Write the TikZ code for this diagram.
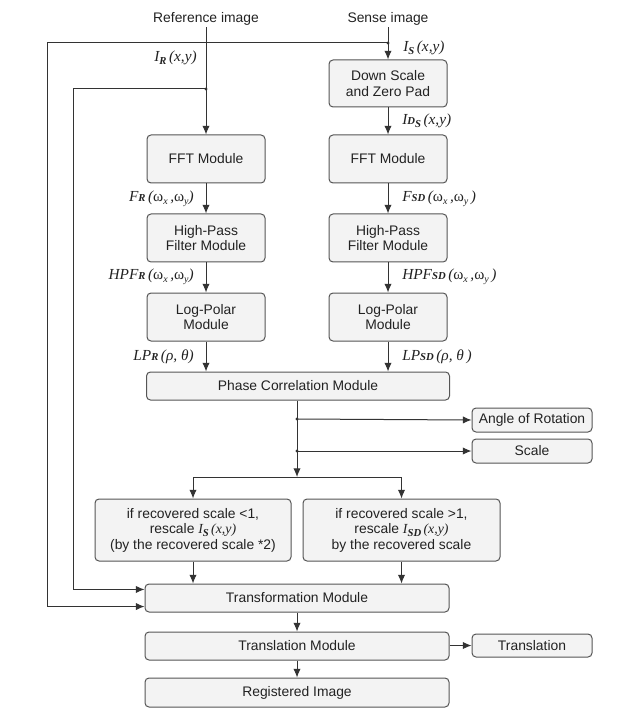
\documentclass[tikz,border=0pt]{standalone}
\usepackage{fontspec}
\setmainfont{Liberation Sans}
\newfontfamily\lbf{Liberation Serif}
\usetikzlibrary{arrows.meta,calc}
\definecolor{boxc}{HTML}{555555}
\definecolor{fillc}{HTML}{F3F3F3}
\definecolor{linec}{HTML}{333333}
\definecolor{txtc}{HTML}{222222}
\newcommand\sbb[1]{\raisebox{-0.4ex}{\fontsize{8}{8}\selectfont\bfseries\itshape #1}}
\newcommand\sbn[1]{\raisebox{-0.4ex}{\fontsize{7.5}{7.5}\selectfont\itshape #1}}
\newcommand\smb[1]{{\fontsize{8}{8}\selectfont\bfseries\itshape #1}}
\newcommand\om{{\upshape ω}}
\tikzset{
  bx/.style={draw=boxc, fill=fillc, rounded corners=3pt, line width=0.75pt,
    align=center, inner sep=0pt, text=txtc, font=\fontsize{10.4}{11.6}\selectfont},
  arr/.style={draw=linec, line width=0.75pt, -{Latex[length=6.5pt,width=5.5pt]}},
  ln/.style={draw=linec, line width=0.75pt},
  lbl/.style={font=\lbf\itshape\fontsize{11.5}{13}\selectfont, text=txtc, inner sep=0pt},
  ttl/.style={font=\fontsize{10.4}{12}\selectfont, text=txtc, inner sep=1pt},
  dot/.style={fill=linec}
}
\begin{document}
\begin{tikzpicture}[x=0.75pt,y=-0.75pt]
\useasboundingbox (0,0) rectangle (636,716);
% titles
\node[ttl, anchor=base] (ref) at (206,23) {Reference image};
\node[ttl, anchor=base] (sen) at (388,23) {Sense image};
% boxes
\node[bx, minimum width=88.5pt, minimum height=35.25pt] (ds) at (388,83.5) {Down Scale\\and Zero Pad};
\node[bx, minimum width=88.5pt, minimum height=36pt] (fftL) at (206,159) {FFT Module};
\node[bx, minimum width=88.5pt, minimum height=36pt] (fftR) at (388,159) {FFT Module};
\node[bx, minimum width=88.5pt, minimum height=36pt] (hpL) at (206,238) {High-Pass\\Filter Module};
\node[bx, minimum width=88.5pt, minimum height=36pt] (hpR) at (388,238) {High-Pass\\Filter Module};
\node[bx, minimum width=88.5pt, minimum height=36pt] (lpL) at (206,317) {Log-Polar\\Module};
\node[bx, minimum width=88.5pt, minimum height=36pt] (lpR) at (388,317) {Log-Polar\\Module};
\node[bx, minimum width=227.25pt, minimum height=21pt] (ph) at (298,386) {Phase Correlation Module};
\node[bx, minimum width=90pt, minimum height=18pt] (ang) at (532,420) {Angle of Rotation};
\node[bx, minimum width=90pt, minimum height=18pt] (sc) at (532,451) {Scale};
\node[bx, minimum width=147pt, minimum height=46.5pt] (ifL) at (193,530)
  {if recovered scale <1,\\rescale {\lbf\itshape I\sbb{S}\,(x,y)}\\(by the recovered scale *2)};
\node[bx, minimum width=147.75pt, minimum height=46.5pt] (ifR) at (401.5,530)
  {if recovered scale >1,\\rescale {\lbf\itshape I\sbb{SD}\,(x,y)}\\by the recovered scale};
\node[bx, minimum width=228pt, minimum height=21pt] (tr) at (297,598) {Transformation Module};
\node[bx, minimum width=228pt, minimum height=21pt] (tl) at (297,646) {Translation Module};
\node[bx, minimum width=90pt, minimum height=17.25pt] (tt) at (532,645.5) {Translation};
\node[bx, minimum width=228pt, minimum height=21.75pt] (rg) at (297,692.5) {Registered Image};
% labels
\node[lbl, anchor=east] (lIR) at (197,58) {I\sbb{R}\,(x,y)};
\node[lbl, anchor=west] (lIS) at (403,48) {I\sbb{S}\,(x,y)};
\node[lbl, anchor=west] (lIDS) at (402,121) {I\smb{D}\sbb{S}\,(x,y)};
\node[lbl, anchor=east] (lFR) at (194,199) {F\smb{R}\,(\om\sbn{x}\,,\om\sbn{y})};
\node[lbl, anchor=west] (lFS) at (402,199) {F\smb{SD}\,(\om\sbn{x}\,,\om\sbn{y}\,)};
\node[lbl, anchor=east] (lHR) at (194,277) {HPF\smb{R}\,(\om\sbn{x}\,,\om\sbn{y})};
\node[lbl, anchor=west] (lHS) at (402,277) {HPF\smb{SD}\,(\om\sbn{x}\,,\om\sbn{y}\,)};
\node[lbl, anchor=east] (lLR) at (194,357) {LP\smb{R}\,(ρ, θ)};
\node[lbl, anchor=west] (lLS) at (402,357) {LP\smb{SD}\,(ρ, θ\,)};
% junctions
\coordinate (jR) at (206,89);
\coordinate (jS) at (388,43);
\coordinate (c1) at (73,89);
\coordinate (c2) at (47,43);
\coordinate (tin1) at ([yshift=6.4pt]tr.west);
\coordinate (tin2) at ([yshift=-6.4pt]tr.west);
\coordinate (j1) at (297,419);
\coordinate (j2) at (297,451);
\coordinate (sp) at (297,477);
\coordinate (spL) at (193,477);
\coordinate (spR) at (401.5,477);
% connectors
\draw[arr] (ref.south) -- (fftL.north);
\draw[arr] (sen.south) -- (ds.north);
\draw[arr] (ds) -- (fftR);
\draw[arr] (fftL) -- (hpL);
\draw[arr] (fftR) -- (hpR);
\draw[arr] (hpL) -- (lpL);
\draw[arr] (hpR) -- (lpR);
\draw[arr] (lpL.south) -- (lpL.south |- ph.north);
\draw[arr] (lpR.south) -- (lpR.south |- ph.north);
\draw[ln] (jR) -- (c1);
\draw[arr] (c1) |- (tin1);
\draw[ln] (jS) -- (c2);
\draw[arr] (c2) |- (tin2);
\fill[dot] (jR) circle (1.3pt);
\fill[dot] (jS) circle (1.3pt);
\draw[arr] (ph.south -| sp) -- (sp);
\draw[arr] (j1) -- (ang.west);
\draw[arr] (j2) -- (sc.west);
\fill[dot] (j1) circle (1.3pt);
\fill[dot] (j2) circle (1.3pt);
\draw[ln] (spL) -- (spR);
\draw[arr] (spL) -- (ifL.north);
\draw[arr] (spR) -- (ifR.north);
\draw[arr] (ifL.south) -- (ifL.south |- tr.north);
\draw[arr] (ifR.south) -- (ifR.south |- tr.north);
\draw[arr] (tr) -- (tl);
\draw[arr] (tl) -- (rg);
\draw[arr] (tl.east |- tt.west) -- (tt.west);
\end{tikzpicture}
\end{document}
